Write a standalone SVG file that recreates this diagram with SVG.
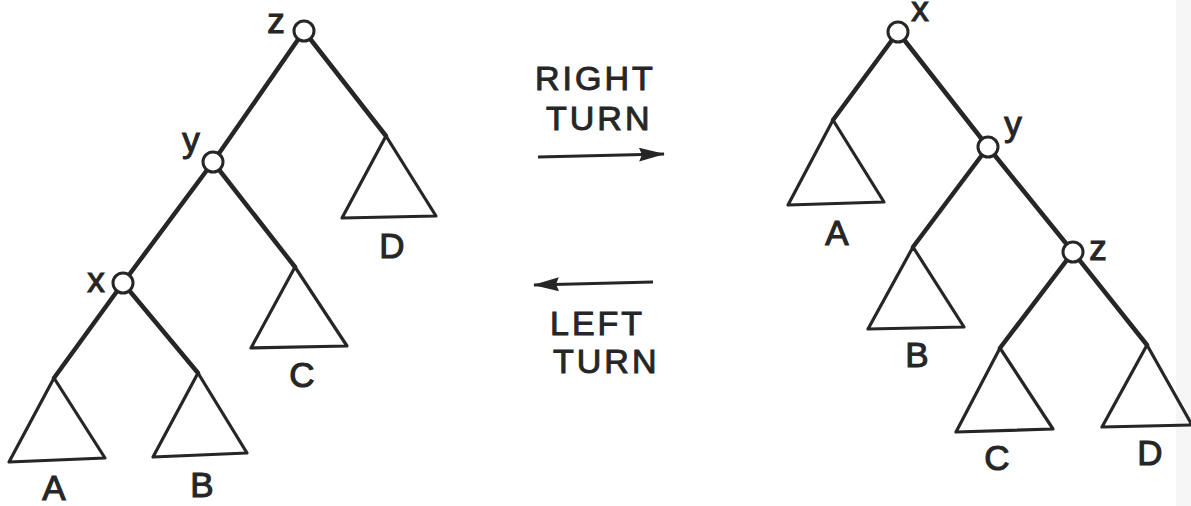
<svg xmlns="http://www.w3.org/2000/svg" width="1191" height="506" viewBox="0 0 1191 506">
<style>
.edge{stroke:#262626;stroke-width:4.5;stroke-linecap:round;fill:none}
.tri{stroke:#262626;stroke-width:3.2;stroke-linejoin:round;fill:none}
.node{stroke:#262626;stroke-width:3;fill:#fff}
.lbl{font-family:"Liberation Sans",Arial,sans-serif;font-size:35px;fill:#262626;stroke:#262626;stroke-width:1.1;text-anchor:middle}
.cap{font-family:"Liberation Sans",Arial,sans-serif;font-size:34px;fill:#262626;stroke:#262626;stroke-width:1;letter-spacing:3px}
.arr{stroke:#262626;stroke-width:3;fill:none}
</style>
<defs>
<marker id="head" viewBox="0 0 26 14" refX="25" refY="7" markerWidth="26" markerHeight="14" markerUnits="userSpaceOnUse" orient="auto">
<path d="M0,0 L26,7 L0,14 L3,7 Z" fill="#262626"/>
</marker>
</defs>
<rect width="1191" height="506" fill="#fff"/>
<rect x="1176" y="0" width="15" height="506" fill="#f6f6f6"/>

<g id="connectors">
<line class="edge" x1="304" y1="31" x2="213" y2="162"/>
<line class="edge" x1="304" y1="31" x2="386" y2="136"/>
<line class="edge" x1="213" y1="162" x2="123" y2="283"/>
<line class="edge" x1="213" y1="162" x2="295" y2="267"/>
<line class="edge" x1="123" y1="283" x2="54" y2="378"/>
<line class="edge" x1="123" y1="283" x2="198" y2="373"/>
<line class="edge" x1="898" y1="32" x2="833" y2="120"/>
<line class="edge" x1="898" y1="32" x2="988" y2="147"/>
<line class="edge" x1="988" y1="147" x2="913" y2="247"/>
<line class="edge" x1="988" y1="147" x2="1073" y2="252"/>
<line class="edge" x1="1073" y1="252" x2="1000" y2="348"/>
<line class="edge" x1="1073" y1="252" x2="1147" y2="345"/>
<line class="arr" x1="538" y1="157" x2="664" y2="154" marker-end="url(#head)"/>
<line class="arr" x1="653" y1="282" x2="534" y2="285" marker-end="url(#head)"/>
</g>

<g id="labels-middle">
<text class="cap" x="535" y="90">RIGHT</text>
<text class="cap" x="546" y="130">TURN</text>
<text class="cap" x="550" y="335">LEFT</text>
<text class="cap" x="553" y="373">TURN</text>
</g>

<g id="L-z"><circle class="node" cx="304" cy="31" r="10"/><text class="lbl" x="276" y="33">z</text></g>
<g id="L-y"><circle class="node" cx="213" cy="162" r="10"/><text class="lbl" x="191" y="152">y</text></g>
<g id="L-x"><circle class="node" cx="123" cy="283" r="10"/><text class="lbl" x="96" y="292">x</text></g>
<g id="L-A"><polygon class="tri" points="54,378 9,462 105,458"/><text class="lbl" x="54" y="500">A</text></g>
<g id="L-B"><polygon class="tri" points="198,373 153,457 247,453"/><text class="lbl" x="202" y="497">B</text></g>
<g id="L-C"><polygon class="tri" points="295,267 251,348 347,346"/><text class="lbl" x="302" y="387">C</text></g>
<g id="L-D"><polygon class="tri" points="386,136 342,218 436,216"/><text class="lbl" x="392" y="258">D</text></g>

<g id="R-x"><circle class="node" cx="898" cy="32" r="10"/><text class="lbl" x="920" y="21">x</text></g>
<g id="R-y"><circle class="node" cx="988" cy="147" r="10"/><text class="lbl" x="1013" y="136">y</text></g>
<g id="R-z"><circle class="node" cx="1073" cy="252" r="10"/><text class="lbl" x="1098" y="260">z</text></g>
<g id="R-A"><polygon class="tri" points="833,120 788,205 884,202"/><text class="lbl" x="837" y="245">A</text></g>
<g id="R-B"><polygon class="tri" points="913,247 868,329 964,327"/><text class="lbl" x="917" y="367">B</text></g>
<g id="R-C"><polygon class="tri" points="1000,348 956,432 1053,429"/><text class="lbl" x="997" y="470">C</text></g>
<g id="R-D"><polygon class="tri" points="1147,345 1102,427 1192,425"/><text class="lbl" x="1150" y="465">D</text></g>
</svg>
